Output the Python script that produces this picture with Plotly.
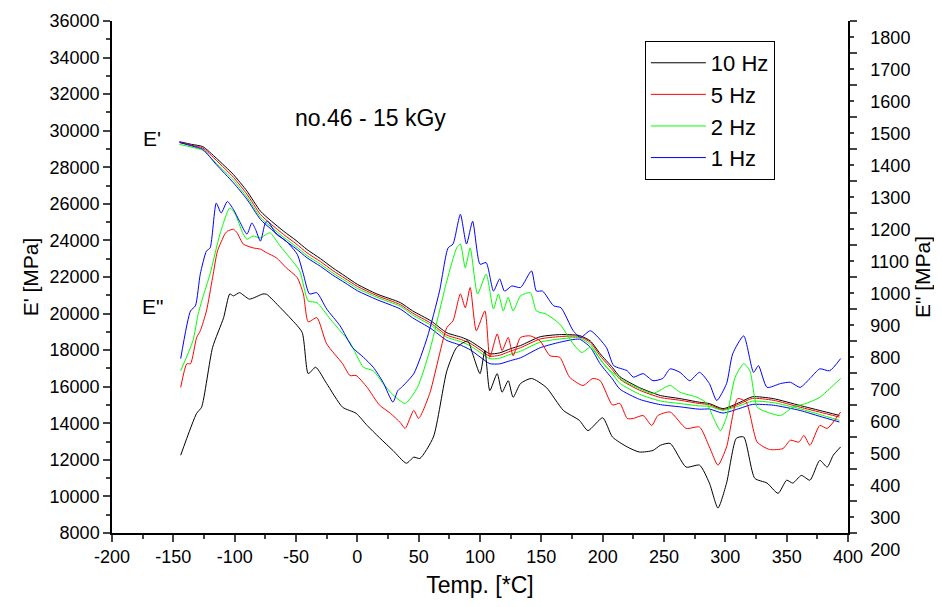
import plotly.graph_objects as go

# E' (storage modulus) - left axis, common temperature grid
temp_e1 = [-145, -135, -126, -115, -101, -90, -79, -70, -60, -50, -41, -30, -20, -10, 0, 16, 35, 45, 60, 73,
           85, 92, 100, 108, 116, 125, 133, 149, 165, 181, 190, 198, 208, 214, 230, 247, 263, 279, 287, 298,
           312, 322, 339, 361, 377, 393]
e1_10hz = [29400, 29250, 29130, 28500, 27600, 26700, 25600, 25050, 24500, 24000, 23500, 23000, 22500, 22050,
           21600, 21070, 20600, 20150, 19600, 18950, 18700, 18500, 18150, 17800, 17850, 18080, 18250, 18730,
           18850, 18800, 18500, 17800, 17050, 16550, 15950, 15520, 15350, 15150, 15080, 14800, 15150, 15450,
           15350, 14970, 14700, 14430]
e1_5hz = [29370, 29200, 29050, 28380, 27450, 26530, 25420, 24870, 24320, 23820, 23320, 22840, 22350, 21920,
          21490, 20980, 20490, 20030, 19470, 18820, 18570, 18370, 18020, 17670, 17720, 17950, 18130, 18610,
          18740, 18750, 18420, 17680, 16920, 16410, 15810, 15410, 15260, 15080, 15020, 14745, 15070, 15360,
          15260, 14880, 14610, 14340]
e1_2hz = [29250, 29100, 28930, 28220, 27300, 26370, 25270, 24720, 24170, 23670, 23170, 22700, 22220, 21800,
          21380, 20890, 20400, 19930, 19360, 18710, 18450, 18240, 17880, 17530, 17560, 17780, 17940, 18440,
          18610, 18680, 18300, 17500, 16690, 16190, 15590, 15220, 15080, 14950, 14930, 14710, 14970, 15210,
          15130, 14790, 14480, 14160]
e1_1hz = [29350, 29170, 28980, 28150, 27150, 26250, 25150, 24600, 24050, 23550, 23050, 22580, 22100, 21680,
          21250, 20760, 20250, 19770, 19180, 18530, 18250, 18020, 17630, 17260, 17250, 17430, 17580, 18130,
          18430, 18600, 18150, 17250, 16420, 15870, 15310, 15020, 14900, 14770, 14780, 14560, 14820, 15030,
          14990, 14700, 14380, 14070]

# E'' (loss modulus) - right axis
t2_10hz = [-144, -131, -127, -118, -109, -104, -101, -96, -88, -77, -74, -63, -54, -45, -40, -34, -25, -12, -1, 8,
           18, 29, 40, 46, 51, 62, 73, 81, 90, 94, 100, 104, 108, 114, 118, 123, 127, 133, 142, 154,
           168, 181, 188, 200, 208, 220, 230, 241, 247, 255, 268, 279, 287, 294, 301, 309, 315, 324, 334, 343,
           350, 355, 362, 369, 377, 383, 388, 394]
e2_10hz = [443, 574, 593, 780, 873, 947, 941, 951, 931, 947, 946, 905, 869, 827, 698, 718, 667, 593, 574, 536,
           498, 458, 418, 437, 433, 500, 707, 780, 800, 760, 698, 770, 645, 698, 640, 676, 624, 667, 683, 655,
           583, 552, 520, 560, 500, 469, 453, 458, 474, 480, 406, 412, 356, 278, 356, 496, 500, 371, 356, 324,
           365, 356, 380, 365, 427, 406, 443, 469]

t2_5hz = [-144, -139, -136, -131, -128, -123, -118, -114, -108, -106, -101, -98, -93, -85, -79, -74, -66, -58, -49, -44,
          -40, -33, -25, -12, -6, -1, 8, 18, 27, 35, 39, 46, 50, 59, 73, 78, 84, 88, 92, 97,
          104, 108, 114, 118, 123, 127, 133, 141, 149, 157, 165, 173, 184, 192, 198, 208, 214, 220, 225, 233,
          240, 245, 255, 268, 279, 287, 294, 301, 310, 317, 326, 336, 347, 353, 360, 364, 369, 377, 383, 394]
e2_5hz = [655, 729, 729, 811, 832, 894, 998, 1081, 1134, 1143, 1149, 1138, 1103, 1091, 1087, 1076, 1060, 1029, 998, 947,
          860, 873, 791, 729, 692, 692, 655, 600, 574, 545, 527, 583, 558, 636, 842, 863, 947, 904, 967, 832,
          894, 749, 822, 770, 811, 754, 811, 816, 800, 754, 749, 687, 661, 683, 676, 600, 605, 558, 558, 567,
          536, 567, 578, 527, 531, 469, 412, 469, 620, 609, 484, 461, 464, 490, 484, 505, 474, 536, 527, 578]

t2_2hz = [-144, -134, -130, -126, -120, -112, -104, -100, -93, -90, -85, -79, -74, -71, -63, -55, -47, -40, -33, -22,
          -14, -6, 5, 13, 21, 29, 39, 49, 59, 73, 81, 84, 88, 92, 98, 105, 111, 115, 119, 123,
          127, 133, 141, 146, 154, 165, 176, 183, 190, 203, 217, 230, 241, 255, 263, 277, 285, 290, 296, 301,
          308, 315, 320, 326, 334, 345, 355, 366, 377, 385, 394]
e2_2hz = [707, 801, 880, 936, 1010, 1134, 1216, 1200, 1134, 1118, 1128, 1122, 1134, 1138, 1097, 1060, 1019, 925, 920, 868,
          832, 795, 718, 707, 667, 632, 605, 655, 770, 988, 1091, 1103, 1029, 1091, 947, 1009, 900, 947, 894, 936,
          894, 941, 951, 894, 884, 853, 791, 764, 780, 718, 676, 651, 636, 661, 640, 624, 605, 562, 520, 562,
          687, 729, 707, 593, 578, 567, 593, 605, 624, 651, 683]

t2_1hz = [-144, -136, -132, -128, -123, -120, -115, -111, -106, -101, -96, -90, -86, -83, -79, -75, -73, -66, -58, -49,
          -44, -39, -33, -25, -14, -4, 5, 13, 21, 29, 33, 36, 46, 57, 67, 74, 78, 84, 89, 94,
          100, 105, 111, 116, 120, 126, 133, 142, 146, 151, 160, 166, 176, 182, 190, 203, 209, 220, 225, 233,
          241, 249, 255, 263, 271, 279, 287, 293, 301, 306, 315, 323, 327, 334, 345, 353, 361, 369, 377, 385, 394]
e2_1hz = [745, 894, 910, 1010, 1081, 1091, 1231, 1200, 1236, 1211, 1174, 1134, 1169, 1149, 1112, 1169, 1174, 1134, 1112, 1071,
          1009, 947, 951, 900, 847, 780, 749, 718, 671, 609, 645, 655, 698, 811, 956, 1091, 1103, 1196, 1103, 1174,
          1040, 1045, 956, 994, 956, 972, 967, 1019, 956, 956, 910, 904, 832, 811, 832, 780, 723, 707, 687, 698,
          676, 683, 713, 702, 676, 702, 667, 614, 667, 760, 816, 702, 723, 655, 667, 671, 655, 683, 713, 707, 745]

# x tick labels (plain hyphen minus as in the original)
x_ticks = [-200, -150, -100, -50, 0, 50, 100, 150, 200, 250, 300, 350, 400]
x_tick_labels = ["-200", "-150", "-100", "-50", "0", "50", "100", "150", "200", "250", "300", "350", "400"]

series = [
    ("10 Hz", "#000000", e1_10hz, t2_10hz, e2_10hz),
    ("5 Hz", "#ff0000", e1_5hz, t2_5hz, e2_5hz),
    ("2 Hz", "#00ff00", e1_2hz, t2_2hz, e2_2hz),
    ("1 Hz", "#0000ff", e1_1hz, t2_1hz, e2_1hz),
]

FONT = "Liberation Sans, Arial, sans-serif"

fig = go.Figure()
for name, col, e1, t2, e2 in series:
    fig.add_trace(go.Scatter(x=temp_e1, y=e1, mode="lines", name=name, legendgroup=name,
                             line=dict(color=col, width=1, shape="spline", smoothing=0.6)))
    fig.add_trace(go.Scatter(x=t2, y=e2, mode="lines", name=name, legendgroup=name, showlegend=False,
                             yaxis="y2", line=dict(color=col, width=1, shape="spline", smoothing=0.6)))

fig.add_annotation(x=-167, y=29550, text="E'", showarrow=False, font=dict(size=21))
fig.add_annotation(x=-167, y=20400, text='E"', showarrow=False, font=dict(size=21))
fig.add_annotation(x=11, y=30700, text="no.46 - 15 kGy", showarrow=False, font=dict(size=23))

axis_style = dict(showgrid=False, zeroline=False, showline=True, linecolor="black", linewidth=1.5,
                  ticks="outside", ticklen=7, tickwidth=1.5, automargin=False)

# page body has an 8px margin, so the figure is 16px smaller than the window
fig.update_layout(
    width=926, height=591,
    margin=dict(l=104, r=86, t=13, b=66),
    paper_bgcolor="white", plot_bgcolor="white",
    font=dict(family=FONT, size=18, color="black"),
    legend=dict(x=0.724, y=0.961, xanchor="left", yanchor="top", bordercolor="black", borderwidth=1,
                bgcolor="white", font=dict(size=22), tracegroupgap=0, itemwidth=55),
    xaxis=dict(range=[-200, 400], tickvals=x_ticks, ticktext=x_tick_labels,
               minor=dict(ticks="outside", ticklen=4, dtick=25, tick0=-200, tickwidth=1.5),
               title=dict(text="Temp. [*C]", font=dict(size=23), standoff=11), **axis_style),
    yaxis=dict(range=[8000, 36000], dtick=2000, tickformat="d",
               minor=dict(ticks="outside", ticklen=4, dtick=1000, tickwidth=1.5),
               title=dict(text="E' [MPa]", font=dict(size=21), standoff=5), **axis_style),
    yaxis2=dict(range=[200, 1800], dtick=100, tickformat="d", overlaying="y", side="right",
                minor=dict(ticks="outside", ticklen=4, dtick=50, tickwidth=1.5),
                ticklabelshift=17, ticklabelstandoff=10,
                title=dict(text='E" [MPa]', font=dict(size=21), standoff=12), **axis_style),
)

fig.write_html("out.html")
